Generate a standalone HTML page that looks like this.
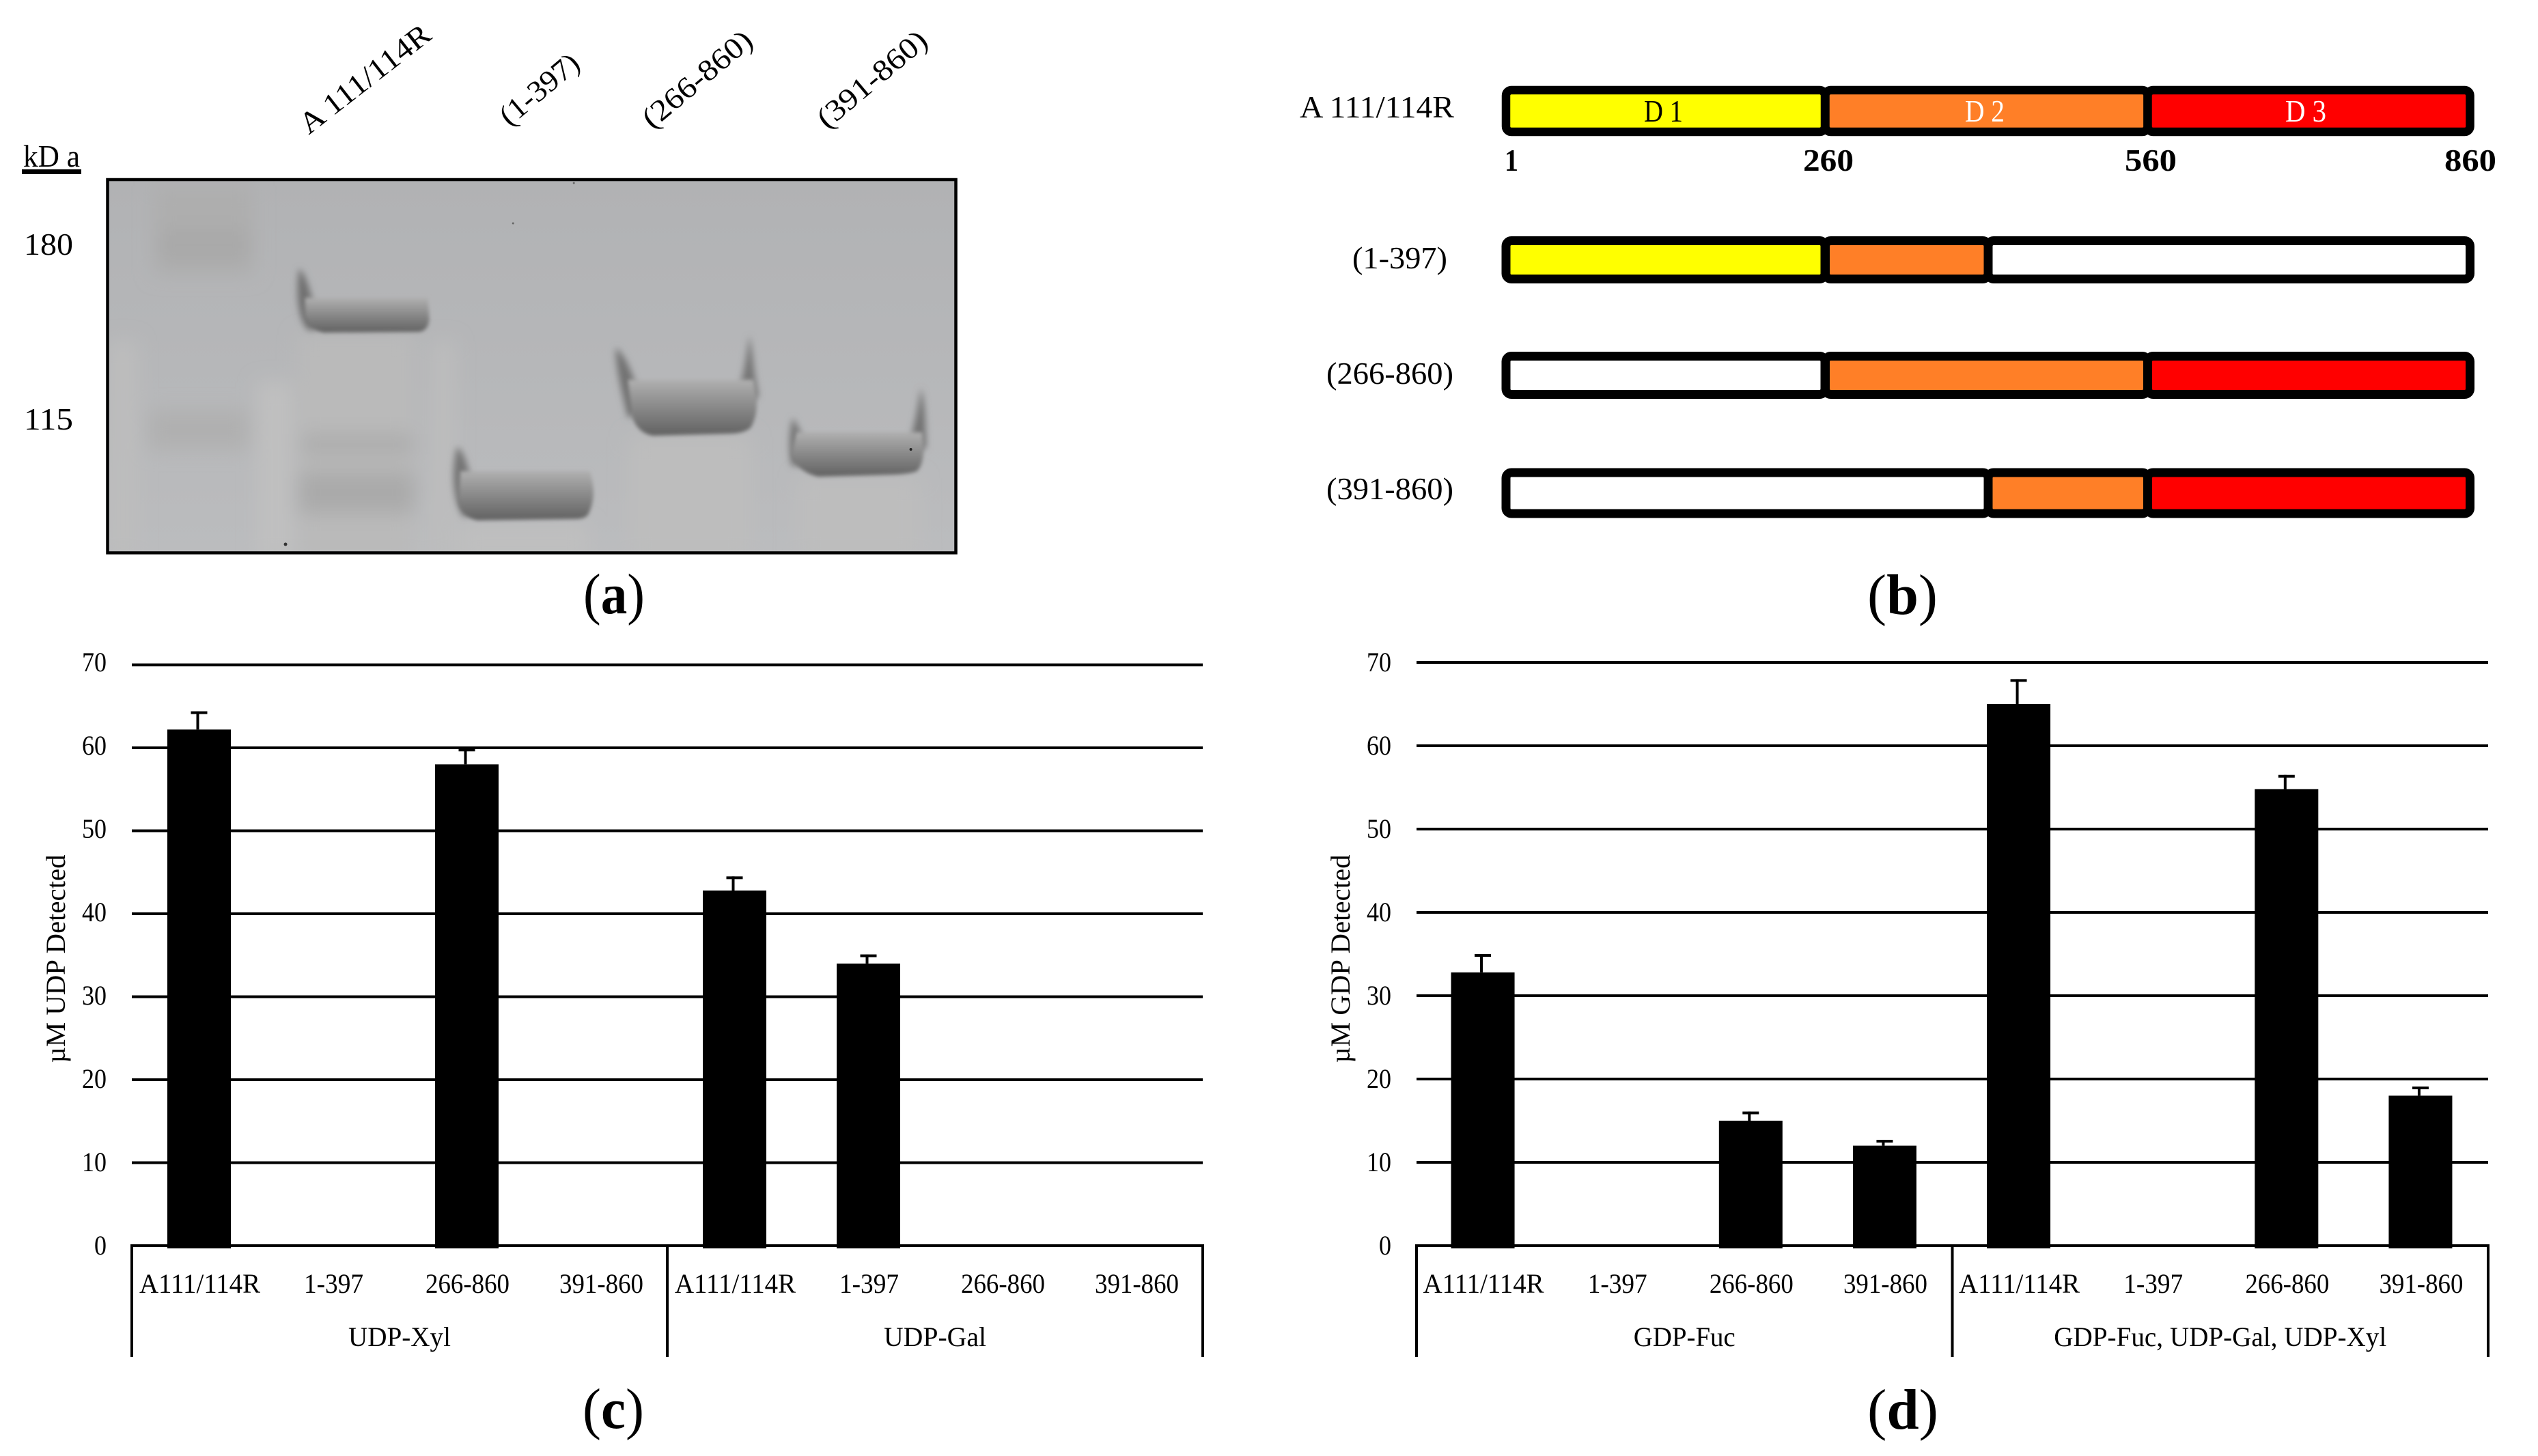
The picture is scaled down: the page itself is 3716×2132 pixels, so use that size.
<!DOCTYPE html>
<html lang="en">
<head>
<meta charset="utf-8">
<title>Protein constructs and glycosyltransferase activity</title>
<style>
html,body{margin:0;padding:0;background:#fff;width:3716px;height:2132px;overflow:hidden}
svg{display:block}
text{font-family:"Liberation Serif",serif;fill:#000}
</style>
</head>
<body>
<svg id="figure" xmlns="http://www.w3.org/2000/svg" width="3716" height="2132" viewBox="0 0 3716 2132">
<defs>
  <linearGradient id="gelBg" x1="0" y1="0" x2="0" y2="1">
    <stop offset="0" stop-color="#b1b2b4"/><stop offset="1" stop-color="#bbbcbe"/>
  </linearGradient>
  <linearGradient id="bandFill" x1="0" y1="0" x2="0" y2="1">
    <stop offset="0" stop-color="#b0b0b0"/><stop offset=".45" stop-color="#8c8c8c"/><stop offset="1" stop-color="#616161"/>
  </linearGradient>
  <filter id="blurBand" x="-20%" y="-30%" width="140%" height="160%"><feGaussianBlur stdDeviation="3"/></filter>
  <filter id="blurTail" x="-60%" y="-20%" width="220%" height="140%"><feGaussianBlur stdDeviation="5"/></filter>
  <filter id="blurSoft" x="-30%" y="-30%" width="160%" height="160%"><feGaussianBlur stdDeviation="14"/></filter>
  <clipPath id="gelClip"><rect x="158" y="264" width="1241" height="545"/></clipPath>
</defs>

<!-- Panel a -->
<g id="panel-a">
  <text x="0" y="0" font-size="44" textLength="231" lengthAdjust="spacingAndGlyphs" transform="translate(452,198) rotate(-38)">A 111/114R</text>
  <text x="0" y="0" font-size="44" textLength="138" lengthAdjust="spacingAndGlyphs" transform="translate(746,186) rotate(-40)">(1-397)</text>
  <text x="0" y="0" font-size="44" textLength="196" lengthAdjust="spacingAndGlyphs" transform="translate(955,190) rotate(-40)">(266-860)</text>
  <text x="0" y="0" font-size="44" textLength="196" lengthAdjust="spacingAndGlyphs" transform="translate(1211,190) rotate(-40)">(391-860)</text>
  <text x="34" y="244" font-size="45" textLength="83" lengthAdjust="spacingAndGlyphs">kD a</text>
  <rect x="32" y="248" width="87" height="7" fill="#000"/>
  <text x="35" y="373" font-size="46" textLength="72" lengthAdjust="spacingAndGlyphs">180</text>
  <text x="35" y="629" font-size="46" textLength="72" lengthAdjust="spacingAndGlyphs">115</text>

  <g clip-path="url(#gelClip)">
    <rect x="158" y="264" width="1241" height="545" fill="url(#gelBg)"/>
    <g transform="translate(158,0) scale(0.9887,1) translate(-158,0)">
      <g filter="url(#blurSoft)">
        <rect x="380" y="560" width="50" height="260" fill="#c0c0c0"/>
        <rect x="160" y="500" width="40" height="320" fill="#bdbdbd"/>
        <rect x="640" y="500" width="30" height="320" fill="#bdbdbd"/>
        <rect x="440" y="490" width="170" height="330" fill="#bababa"/>
        <rect x="680" y="770" width="190" height="50" fill="#bfbfbf"/>
        <rect x="930" y="640" width="180" height="180" fill="#bdbdbd"/>
        <rect x="1180" y="700" width="180" height="120" fill="#bdbdbd"/>
        <rect x="226" y="272" width="148" height="130" fill="#aeaeae"/>
        <rect x="236" y="335" width="130" height="48" fill="#a9a9a9"/>
        <rect x="218" y="600" width="150" height="58" fill="#b0b0b0"/>
        <rect x="445" y="635" width="165" height="32" fill="#adadad"/>
        <rect x="440" y="690" width="172" height="62" fill="#aaaaaa"/>
      </g>
      <g>
        <path filter="url(#blurTail)" d="M441,393 C452,402 458,430 464,450 L480,480 L455,484 C439,468 436,430 441,393Z" fill="#707070"/>
        <path filter="url(#blurBand)" d="M450,436 L632,436 L634,468 Q632,485 618,486 L478,487 Q456,482 450,462Z" fill="url(#bandFill)"/>
      </g>
      <g>
        <path filter="url(#blurTail)" d="M675,654 C688,664 692,690 698,710 L712,750 L684,757 C668,730 666,690 675,654Z" fill="#747474"/>
        <path filter="url(#blurBand)" d="M680,690 L872,690 C878,712 880,730 870,752 Q866,760 850,760 L705,762 Q684,758 677,735Z" fill="url(#bandFill)"/>
      </g>
      <g>
        <path filter="url(#blurTail)" d="M910,509 C924,520 934,545 942,570 L952,600 L928,612 C918,570 910,540 910,509Z" fill="#727272"/>
        <path filter="url(#blurTail)" d="M1108,491 C1114,520 1114,545 1122,580 L1104,592 L1094,565 C1100,545 1104,520 1108,491Z" fill="#767676"/>
        <path filter="url(#blurBand)" d="M928,556 L1114,556 C1120,585 1122,605 1110,626 Q1102,634 1080,635 L965,638 Q942,634 934,610Z" fill="url(#bandFill)"/>
      </g>
      <g>
        <path filter="url(#blurTail)" d="M1172,612 C1182,625 1186,640 1192,655 L1192,682 L1170,682 C1166,660 1166,635 1172,612Z" fill="#767676"/>
        <path filter="url(#blurTail)" d="M1362,568 C1370,600 1368,625 1370,655 L1348,664 L1346,645 C1353,620 1358,595 1362,568Z" fill="#727272"/>
        <path filter="url(#blurBand)" d="M1178,633 L1364,633 C1368,660 1366,680 1356,690 Q1345,694 1320,695 L1210,698 Q1180,692 1170,665Z" fill="url(#bandFill)"/>
      </g>
      <circle cx="421" cy="797" r="2.5" fill="#333"/>
      <circle cx="1347" cy="658" r="2" fill="#222"/>
      <circle cx="758" cy="327" r="1.5" fill="#666"/>
      <circle cx="848" cy="268" r="1.5" fill="#666"/>
    </g>
  </g>
  <rect x="157.5" y="263" width="1242" height="546.5" fill="none" stroke="#000" stroke-width="4.5"/>
  <text x="854" y="898" font-size="84" textLength="90" lengthAdjust="spacingAndGlyphs">(<tspan font-weight="bold">a</tspan>)</text>
</g>

<!-- Panel b -->
<g id="panel-b">
  <text x="1903" y="172" font-size="45" textLength="226" lengthAdjust="spacingAndGlyphs">A 111/114R</text>
  <text x="1980" y="393" font-size="45" textLength="139" lengthAdjust="spacingAndGlyphs">(1-397)</text>
  <text x="1942" y="562" font-size="45" textLength="186" lengthAdjust="spacingAndGlyphs">(266-860)</text>
  <text x="1942" y="731" font-size="45" textLength="186" lengthAdjust="spacingAndGlyphs">(391-860)</text>

  <g stroke="#000" stroke-width="12.5">
    <rect x="2205" y="132" width="467" height="61" rx="8" fill="#ffff00"/>
    <rect x="2672.5" y="132" width="472" height="61" rx="8" fill="#ff7f27"/>
    <rect x="3144.5" y="132" width="472" height="61" rx="8" fill="#ff0000"/>
  </g>
  <text x="2407" y="178" font-size="45" textLength="57" lengthAdjust="spacingAndGlyphs">D 1</text>
  <text x="2877" y="178" font-size="45" textLength="58" lengthAdjust="spacingAndGlyphs" style="fill:#fff">D 2</text>
  <text x="3346" y="178" font-size="45" textLength="60" lengthAdjust="spacingAndGlyphs" style="fill:#fff">D 3</text>
  <text x="2203" y="250" font-size="46" font-weight="bold" textLength="20" lengthAdjust="spacingAndGlyphs">1</text>
  <text x="2640" y="250" font-size="46" font-weight="bold" textLength="74" lengthAdjust="spacingAndGlyphs">260</text>
  <text x="3111" y="250" font-size="46" font-weight="bold" textLength="76" lengthAdjust="spacingAndGlyphs">560</text>
  <text x="3579" y="250" font-size="46" font-weight="bold" textLength="76" lengthAdjust="spacingAndGlyphs">860</text>

  <g stroke="#000" stroke-width="13">
    <rect x="2205" y="352.5" width="467" height="56" rx="8" fill="#ffff00"/>
    <rect x="2672.5" y="352.5" width="238.5" height="56" rx="8" fill="#ff7f27"/>
    <rect x="2911" y="352.5" width="705.5" height="56" rx="8" fill="#fff"/>
  </g>
  <g stroke="#000" stroke-width="13">
    <rect x="2205" y="521.5" width="467" height="56" rx="8" fill="#fff"/>
    <rect x="2672.5" y="521.5" width="472" height="56" rx="8" fill="#ff7f27"/>
    <rect x="3144.5" y="521.5" width="472" height="56" rx="8" fill="#ff0000"/>
  </g>
  <g stroke="#000" stroke-width="13">
    <rect x="2205" y="692" width="706" height="60" rx="8" fill="#fff"/>
    <rect x="2911" y="692" width="233.5" height="60" rx="8" fill="#ff7f27"/>
    <rect x="3144.5" y="692" width="472" height="60" rx="8" fill="#ff0000"/>
  </g>
  <text x="2734" y="899" font-size="84" textLength="103" lengthAdjust="spacingAndGlyphs">(<tspan font-weight="bold">b</tspan>)</text>
</g>

<g id="chart-c"></g>
<g id="chart-d"></g>
<text x="853" y="2091" font-size="84" textLength="90" lengthAdjust="spacingAndGlyphs">(<tspan font-weight="bold">c</tspan>)</text>
<text x="2734" y="2092" font-size="84" textLength="104" lengthAdjust="spacingAndGlyphs">(<tspan font-weight="bold">d</tspan>)</text>
</svg>

<script>
const tickValues = [0, 10, 20, 30, 40, 50, 60, 70];
const constructLabels = ['A111/114R', '1-397', '266-860', '391-860', 'A111/114R', '1-397', '266-860', '391-860'];

const udpGroups = ['UDP-Xyl', 'UDP-Gal'];
const udpValues = [62.2, 0, 58.0, 0, 42.8, 34.0, 0, 0];
const udpErrors = [2.2, 0, 1.9, 0, 1.7, 1.1, 0, 0];

const gdpGroups = ['GDP-Fuc', 'GDP-Fuc, UDP-Gal, UDP-Xyl'];
const gdpValues = [32.8, 0, 15.0, 12.0, 65.0, 0, 54.8, 18.0];
const gdpErrors = [2.2, 0, 1.1, 0.7, 3.0, 0, 1.7, 1.1];

const SVG_NS = 'http://www.w3.org/2000/svg';
const labelWidth = {'A111/114R': 177, '1-397': 87, '266-860': 123, '391-860': 123};
const groupWidth = {'UDP-Xyl': 150, 'UDP-Gal': 150, 'GDP-Fuc': 149, 'GDP-Fuc, UDP-Gal, UDP-Xyl': 487};

function make(parent, tag, attrs, content) {
  const el = document.createElementNS(SVG_NS, tag);
  for (const key in attrs) el.setAttribute(key, attrs[key]);
  if (content !== undefined) el.textContent = content;
  parent.appendChild(el);
  return el;
}

function drawChart(cfg) {
  const root = document.getElementById(cfg.id);
  const n = cfg.values.length;
  const band = (cfg.right - cfg.left) / n;
  const xScale = i => cfg.left + (i + 0.5) * band + cfg.offset;
  const yScale = v => cfg.zero - v * cfg.unit;
  const tickBase = v => 1837 - v * 12.2;
  const mid = (cfg.left + cfg.right) / 2;

  tickValues.forEach(v => {
    const line = make(root, 'rect', {x: cfg.left, y: yScale(v) - 2, width: cfg.right - cfg.left, height: 4, fill: '#000'});
    
    
    const label = make(root, 'text', {x: cfg.left - 37, y: tickBase(v), 'font-size': 40, 'text-anchor': 'end', textLength: v === 0 ? 18 : 36, lengthAdjust: 'spacingAndGlyphs'}, String(v));
    
    
  });

  [cfg.left, mid, cfg.right].forEach((x, i) => {
    const sep = make(root, 'rect', {x: x - 2, y: cfg.zero - 2, width: 4, height: 1987 - cfg.zero + 2, fill: '#000'});
    
    
  });

  cfg.values.forEach((v, i) => {
    const cx = xScale(i);
    if (v > 0) {
      const top = yScale(v);
      const bar = make(root, 'rect', {x: cx - 46.5, y: top, width: 93, height: cfg.zero + 4 - top, fill: '#000'});
      
      
      const capTop = yScale(v + cfg.errors[i]);
      const stem = make(root, 'rect', {x: cx - 4, y: capTop, width: 4, height: top - capTop, fill: '#000'});
      
      
      const cap = make(root, 'rect', {x: cx - 12, y: capTop, width: 24, height: 4, fill: '#000'});
      
      
    }
    const label = make(root, 'text', {x: cx + 1, y: 1893, 'font-size': 40, 'text-anchor': 'middle', textLength: labelWidth[constructLabels[i]], lengthAdjust: 'spacingAndGlyphs'}, constructLabels[i]);
    
    
  });

  cfg.groups.forEach((g, i) => {
    const label = make(root, 'text', {x: cfg.left + (i + 0.5) * (cfg.right - cfg.left) / 2, y: 1971, 'font-size': 40, 'text-anchor': 'middle', textLength: groupWidth[g], lengthAdjust: 'spacingAndGlyphs'}, g);
    
    
  });

  const title = make(root, 'text', {x: 0, y: 0, 'font-size': 40, 'text-anchor': 'middle', textLength: 305, lengthAdjust: 'spacingAndGlyphs', transform: 'translate(' + cfg.titleX + ',1404) rotate(-90)'}, cfg.title);
  
  
}

drawChart({id: 'chart-c', left: 193, right: 1761, zero: 1824, unit: 12.15, offset: 0.5, titleX: 95, title: '\u00B5M UDP Detected', values: udpValues, errors: udpErrors, groups: udpGroups});
drawChart({id: 'chart-d', left: 2074, right: 3643, zero: 1824, unit: 12.2, offset: -1, titleX: 1976, title: '\u00B5M GDP Detected', values: gdpValues, errors: gdpErrors, groups: gdpGroups});
</script>
</body>
</html>
